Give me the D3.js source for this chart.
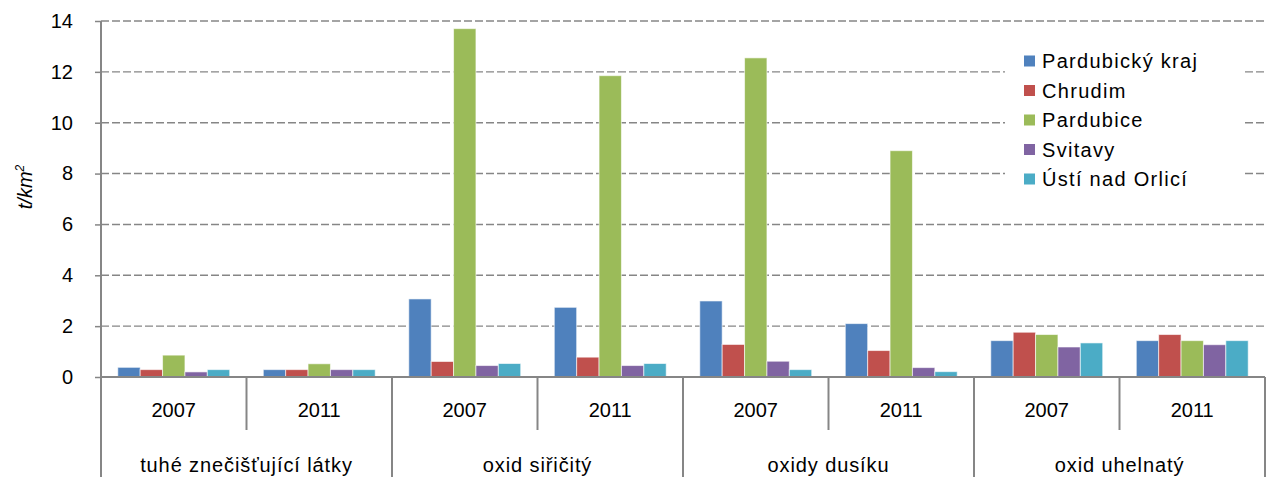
<!DOCTYPE html>
<html>
<head>
<meta charset="utf-8">
<script src="https://cdn.jsdelivr.net/npm/d3@7"></script>
<style>
  html, body { margin: 0; padding: 0; background: #fff; }
  svg { display: block; font-family: "Liberation Sans", Arial, sans-serif; }
</style>
</head>
<body>
<svg id="chart" width="1267" height="477"></svg>
<script>
// ---- data ----
const categories = ["tuhé znečišťující látky", "oxid siřičitý", "oxidy dusíku", "oxid uhelnatý"];
const years = ["2007", "2011"];
const seriesNames = ["Pardubický kraj", "Chrudim", "Pardubice", "Svitavy", "Ústí nad Orlicí"];
const pardubickyKraj = [0.38, 0.29, 3.07, 2.74, 2.99, 2.10, 1.43, 1.43];
const chrudim        = [0.29, 0.29, 0.61, 0.78, 1.28, 1.04, 1.76, 1.67];
const pardubice      = [0.86, 0.52, 13.7, 11.85, 12.55, 8.9, 1.67, 1.43];
const svitavy        = [0.20, 0.29, 0.45, 0.45, 0.62, 0.37, 1.18, 1.27];
const ustiNadOrlici  = [0.29, 0.29, 0.53, 0.53, 0.29, 0.21, 1.34, 1.43];
const yTicks = [0, 2, 4, 6, 8, 10, 12, 14];
const yLabel = "t/km";
const colors = ["#4F81BD", "#C0504D", "#9BBB59", "#8064A2", "#4BACC6"];

(function () {
const seriesValues = [pardubickyKraj, chrudim, pardubice, svitavy, ustiNadOrlici];
const slots = [];
categories.forEach((c, ci) => years.forEach(yr => slots.push({ cat: c, ci, year: yr, key: c + "|" + yr })));

// ---- layout ----
const svg = d3.select("#chart");
const mLeft = 101, mRight = 1265, mTop = 21, mBottom = 377;
const axisColor = "#868686";
const fontSize = 20;

const x = d3.scaleBand().domain(slots.map(s => s.key)).range([mLeft, mRight]).padding(0);
const barW = x.bandwidth() / 6.5;
const xs = d3.scaleBand().domain(seriesNames).range([barW * 0.75, barW * 0.75 + barW * 5]).padding(0);
const y = d3.scaleLinear().domain([0, 14]).range([mBottom, mTop]);

// gridlines
svg.append("g").selectAll("line").data(yTicks.filter(t => t > 0)).join("line")
  .attr("x1", mLeft).attr("x2", mRight)
  .attr("y1", d => y(d)).attr("y2", d => y(d))
  .attr("stroke", axisColor).attr("stroke-width", 1.4).attr("stroke-dasharray", "8,3");

// bars
const g = svg.append("g");
seriesNames.forEach((name, si) => {
  g.append("g").selectAll("rect").data(slots).join("rect")
    .attr("x", (d) => x(d.key) + xs(name))
    .attr("width", xs.bandwidth())
    .attr("y", (d, i) => y(seriesValues[si][i]))
    .attr("height", (d, i) => y(0) - y(seriesValues[si][i]))
    .attr("fill", colors[si])
    .attr("stroke", "#ffffff").attr("stroke-opacity", 0.6).attr("stroke-width", 1);
});

// y axis
const yAxis = d3.axisLeft(y).tickValues(yTicks).tickSize(6).tickPadding(22).tickFormat(d3.format("d"));
const ya = svg.append("g").attr("transform", `translate(${mLeft},0)`).call(yAxis);
ya.select(".domain").remove();
ya.selectAll(".tick line").attr("stroke", axisColor).attr("stroke-width", 1.5);
ya.selectAll(".tick text").attr("font-size", fontSize).attr("fill", "#000")
  .attr("font-family", "'Liberation Sans', Arial, sans-serif");
svg.append("line").attr("x1", mLeft).attr("x2", mLeft).attr("y1", mTop).attr("y2", 477)
  .attr("stroke", axisColor).attr("stroke-width", 2);

// baseline
svg.append("line").attr("x1", mLeft).attr("x2", mRight).attr("y1", y(0)).attr("y2", y(0))
  .attr("stroke", axisColor).attr("stroke-width", 2.2);

// x dividers
const dividers = slots.map((s, i) => ({ xpos: x(s.key) + x.bandwidth(), major: (i % 2 === 1) }));
svg.append("g").selectAll("line").data(dividers).join("line")
  .attr("x1", d => d.xpos).attr("x2", d => d.xpos)
  .attr("y1", y(0)).attr("y2", d => d.major ? 477 : 430)
  .attr("stroke", axisColor).attr("stroke-width", 2);

// year labels
svg.append("g").selectAll("text").data(slots).join("text")
  .attr("x", d => x(d.key) + x.bandwidth() / 2).attr("y", 417)
  .attr("text-anchor", "middle").attr("font-size", fontSize).attr("fill", "#000")
  .text(d => d.year);

// category labels
svg.append("g").selectAll("text").data(categories).join("text")
  .attr("x", (d, i) => x(d + "|" + years[0]) + x.bandwidth())
  .attr("y", 472)
  .attr("text-anchor", "middle").attr("font-size", fontSize).attr("fill", "#000")
  .attr("letter-spacing", 0.9)
  .text(d => d);

// y label
const yl = svg.append("text").attr("transform", "translate(32,187) rotate(-90)")
  .attr("text-anchor", "middle").attr("font-size", fontSize).attr("font-style", "italic").attr("fill", "#000");
yl.append("tspan").text(yLabel);
yl.append("tspan").attr("font-size", 12).attr("dy", -8).text("2");

// legend
const lg = svg.append("g");
lg.append("rect").attr("x", 1005).attr("y", 40).attr("width", 240).attr("height", 157).attr("fill", "#fff");
const li = lg.selectAll("g.item").data(seriesNames).join("g").attr("class", "item")
  .attr("transform", (d, i) => `translate(1024,${61 + i * 29.5})`);
li.append("rect").attr("x", 0).attr("y", -5.5).attr("width", 11).attr("height", 11)
  .attr("fill", (d, i) => colors[i]);
li.append("text").attr("x", 18).attr("y", 7).attr("font-size", fontSize).attr("fill", "#000")
  .attr("letter-spacing", 1.3).text(d => d);
})();
</script>
</body>
</html>
